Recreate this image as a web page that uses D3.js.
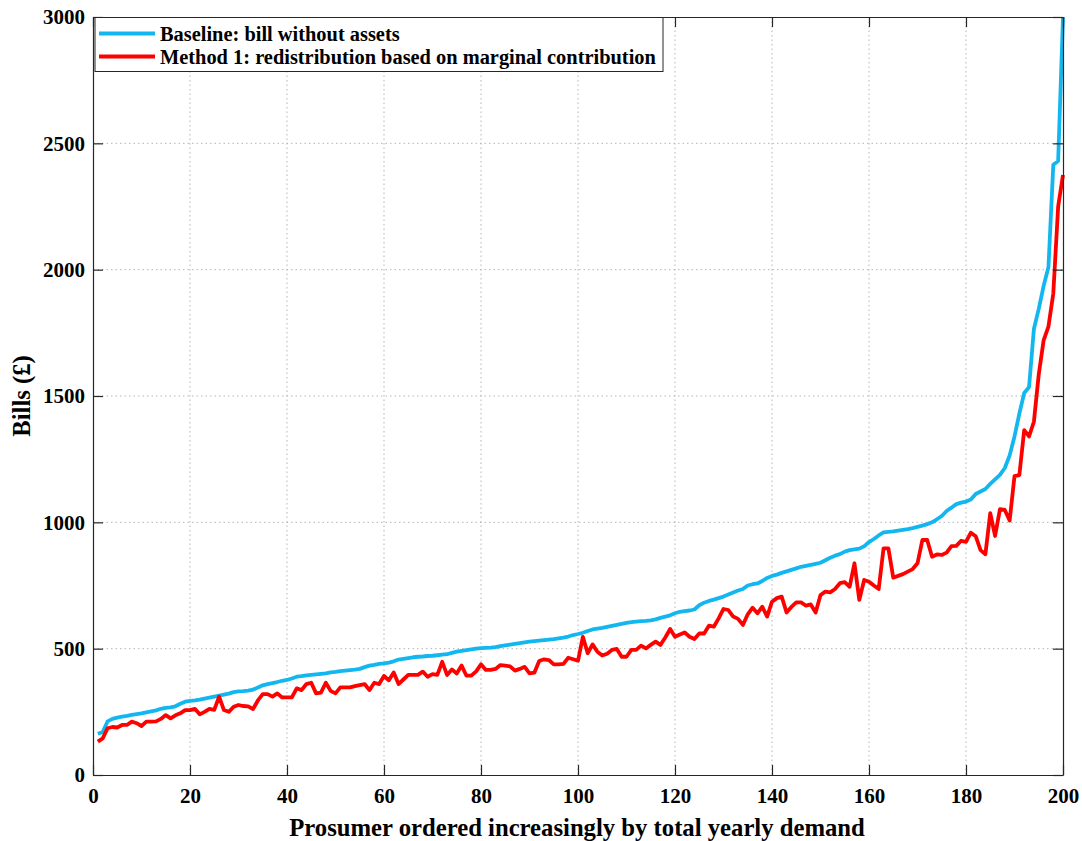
<!DOCTYPE html>
<html>
<head>
<meta charset="utf-8">
<script src="https://cdn.jsdelivr.net/npm/d3@7"></script>
<style>
  html, body { margin: 0; padding: 0; background: #fff; }
  svg { display: block; font-family: "Liberation Serif", "Times New Roman", serif; font-weight: bold; }
</style>
</head>
<body>
<svg id="chart" width="1082" height="841"></svg>
<script>
// Prosumer index, ordered by total yearly demand (1..200)
const prosumers = d3.range(1, 201);

// Baseline bill without assets (£)
const baselineBills = [
  163, 170, 212, 222, 227, 231, 234, 238, 241, 244,
  248, 252, 256, 262, 266, 268, 272, 282, 290, 293,
  295, 298, 302, 306, 310, 314, 318, 322, 328, 331,
  332, 334, 338, 346, 355, 360, 364, 368, 373, 376,
  382, 389, 391, 394, 396, 398, 400, 402, 406, 408,
  411, 413, 415, 417, 420, 427, 433, 436, 440, 442,
  445, 450, 457, 460, 463, 466, 468, 469, 471, 472,
  474, 476, 478, 483, 488, 491, 494, 497, 500, 502,
  503, 504, 506, 510, 513, 516, 519, 522, 525, 528,
  530, 532, 534, 536, 538, 541, 544, 548, 554, 558,
  563, 570, 576, 579, 582, 586, 590, 594, 598, 602,
  605, 607, 609, 610, 612, 616, 622, 627, 632, 640,
  646, 649, 651, 655, 672, 682, 689, 694, 700, 706,
  714, 722, 730, 736, 750, 755, 758, 768, 780, 788,
  793, 800, 806, 812, 818, 824, 828, 832, 836, 840,
  850, 860, 868, 874, 884, 890, 893, 896, 905, 922,
  934, 948, 960, 962, 964, 967, 970, 973, 977, 982,
  987, 993, 1000, 1012, 1025, 1045, 1058, 1072, 1078, 1082,
  1090, 1112, 1122, 1132, 1152, 1170, 1188, 1215, 1265, 1340,
  1430, 1512, 1535, 1765, 1845, 1935, 2010, 2415, 2430, 3000
];

// Method 1: redistribution based on marginal contribution (£)
const method1Bills = [
  132, 145, 185, 190, 188, 198, 198, 211, 205, 194,
  211, 211, 212, 222, 237, 224, 236, 244, 257, 257,
  262, 240, 250, 262, 258, 310, 257, 250, 270, 277,
  273, 272, 261, 295, 320, 320, 310, 323, 307, 307,
  307, 343, 336, 360, 365, 323, 326, 365, 333, 323,
  347, 347, 347, 352, 356, 360, 336, 365, 360, 392,
  375, 406, 360, 378, 396, 396, 396, 409, 389, 399,
  396, 448, 396, 418, 402, 433, 393, 393, 410, 438,
  416, 416, 420, 435, 433, 430, 413, 420, 428, 402,
  405, 451, 458, 455, 438, 438, 440, 464, 458, 452,
  547, 482, 517, 488, 473, 480, 495, 499, 468, 468,
  495, 495, 512, 501, 515, 528, 515, 544, 578, 547,
  556, 564, 547, 538, 560, 560, 591, 587, 620, 657,
  653, 627, 618, 594, 636, 662, 640, 666, 627, 686,
  700, 706, 643, 665, 683, 683, 670, 675, 643, 712,
  726, 723, 736, 759, 763, 745, 838, 693, 772, 765,
  750, 736, 897, 897, 781, 788, 795, 805, 815, 838,
  930, 930, 864, 873, 871, 880, 906, 907, 927, 923,
  959, 945, 890, 874, 1036, 946, 1052, 1049, 1007, 1183,
  1187, 1365, 1340, 1398, 1585, 1720, 1775, 1906, 2250, 2375
];

const xTicks = [0, 20, 40, 60, 80, 100, 120, 140, 160, 180, 200];
const yTicks = [0, 500, 1000, 1500, 2000, 2500, 3000];

const seriesNames = [
  "Baseline: bill without assets",
  "Method 1: redistribution based on marginal contribution"
];
const seriesColors = ["#13b7f0", "#ff0000"];

const svg = d3.select("#chart");
const margin = { left: 93, right: 1063, top: 17, bottom: 775 };

const x = d3.scaleLinear().domain([0, 200]).range([margin.left, margin.right]);
const y = d3.scaleLinear().domain([0, 3000]).range([margin.bottom, margin.top]);

const axisColor = "#262626";

// grid
const grid = svg.append("g").attr("class", "grid");
grid.selectAll("line.gx").data(xTicks.slice(1, -1)).join("line")
  .attr("x1", d => x(d)).attr("x2", d => x(d))
  .attr("y1", margin.top).attr("y2", margin.bottom)
  .attr("stroke", "#b5b5b5").attr("stroke-width", 1)
  .attr("stroke-dasharray", "1.5,3");
grid.selectAll("line.gy").data(yTicks.slice(1, -1)).join("line")
  .attr("x1", margin.left).attr("x2", margin.right)
  .attr("y1", d => y(d)).attr("y2", d => y(d))
  .attr("stroke", "#b5b5b5").attr("stroke-width", 1)
  .attr("stroke-dasharray", "1.5,3");

// series lines
const line = d3.line().x((d, i) => x(prosumers[i])).y(d => y(d));
[baselineBills, method1Bills].forEach((vals, k) => {
  svg.append("path")
    .datum(vals)
    .attr("d", line)
    .attr("fill", "none")
    .attr("stroke", seriesColors[k])
    .attr("stroke-width", 3.8)
    .attr("stroke-linejoin", "round");
});

// axes with inward ticks on all four sides
const tickLen = 10;
const fmt = d3.format("d");
const bottomAxis = d3.axisBottom(x).tickValues(xTicks).tickFormat(fmt).tickSizeInner(-tickLen).tickSizeOuter(0).tickPadding(13);
const topAxis = d3.axisTop(x).tickValues(xTicks).tickSizeInner(-tickLen).tickSizeOuter(0).tickFormat("");
const leftAxis = d3.axisLeft(y).tickValues(yTicks).tickFormat(fmt).tickSizeInner(-tickLen).tickSizeOuter(0).tickPadding(8);
const rightAxis = d3.axisRight(y).tickValues(yTicks).tickSizeInner(-tickLen).tickSizeOuter(0).tickFormat("");

function styleAxis(g) {
  g.select(".domain").attr("stroke", axisColor).attr("stroke-width", 1.2);
  g.selectAll(".tick line").attr("stroke", axisColor).attr("stroke-width", 1.2);
  g.selectAll(".tick text")
    .attr("fill", "#000")
    .style("font-family", "'Liberation Serif', 'Times New Roman', serif")
    .style("font-weight", "bold")
    .style("font-size", "21px");
}

svg.append("g").attr("transform", `translate(0,${margin.bottom})`).call(bottomAxis).call(styleAxis);
svg.append("g").attr("transform", `translate(0,${margin.top})`).call(topAxis).call(styleAxis);
svg.append("g").attr("transform", `translate(${margin.left},0)`).call(leftAxis).call(styleAxis);
svg.append("g").attr("transform", `translate(${margin.right},0)`).call(rightAxis).call(styleAxis);

// axis titles
svg.append("text")
  .attr("x", 577)
  .attr("y", 836)
  .attr("text-anchor", "middle")
  .style("font-size", "24.7px")
  .text("Prosumer ordered increasingly by total yearly demand");

svg.append("text")
  .attr("transform", `translate(30,${(margin.top + margin.bottom) / 2}) rotate(-90)`)
  .attr("text-anchor", "middle")
  .style("font-size", "24.7px")
  .text("Bills (£)");

// legend
const legend = svg.append("g");
legend.append("rect")
  .attr("x", 95).attr("y", 17.5)
  .attr("width", 568).attr("height", 54)
  .attr("fill", "#fff").attr("stroke", axisColor).attr("stroke-width", 1);
seriesNames.forEach((name, k) => {
  const cy = 33.5 + k * 23;
  legend.append("line")
    .attr("x1", 99).attr("x2", 155)
    .attr("y1", cy).attr("y2", cy)
    .attr("stroke", seriesColors[k]).attr("stroke-width", 3.8);
  legend.append("text")
    .attr("x", 160).attr("y", cy + 7)
    .style("font-size", "20.4px")
    .text(name);
});
</script>
</body>
</html>
